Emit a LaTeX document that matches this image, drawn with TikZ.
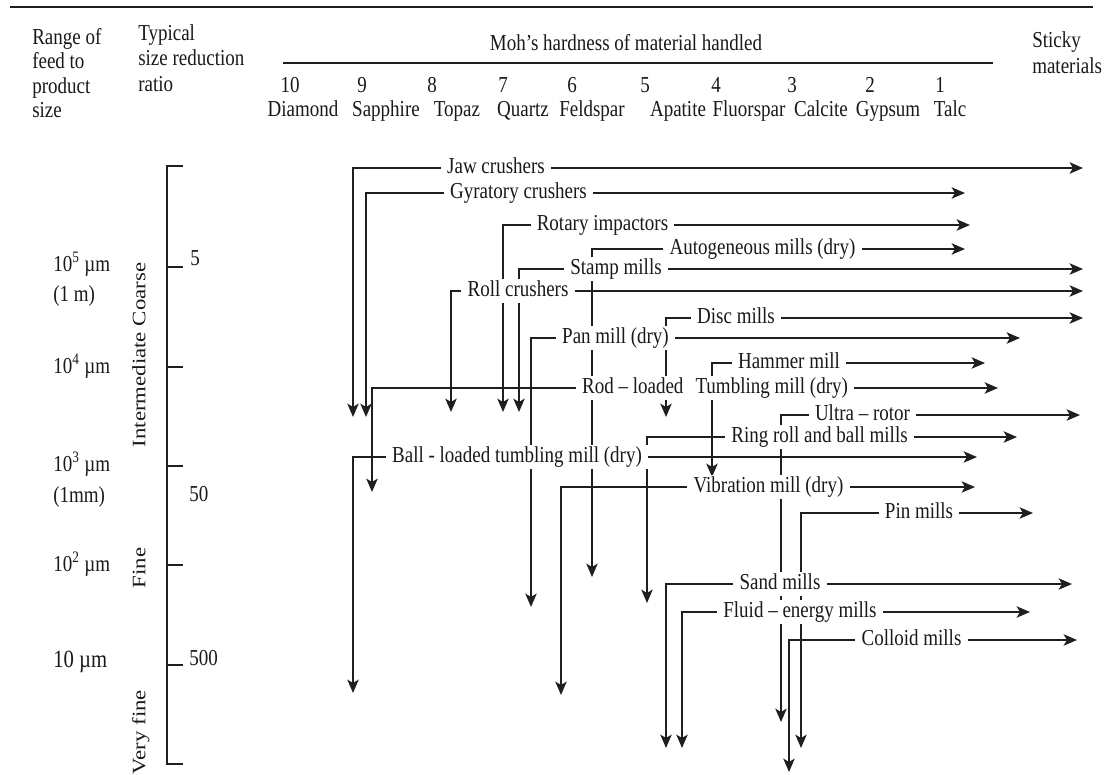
\documentclass[tikz,border=0pt]{standalone}
\usepackage{fontspec}
\setmainfont{Liberation Serif}
\usetikzlibrary{arrows.meta,backgrounds}
\newcommand\tx[1]{\scalebox{1}[1.2]{#1}}
\newcommand\rtx[1]{\scalebox{1.2}[1]{#1}}
\begin{document}
\begin{tikzpicture}[x=0.75pt,y=-0.75pt,
  font=\fontsize{14.25}{17}\selectfont,
  lab/.style={fill=white,inner xsep=4.5pt,inner ysep=1.2pt,text height=11.7pt,text depth=3.7pt,text=black!90},
  hd/.style={inner sep=0pt,text height=11.7pt,text depth=3.7pt,text=black!90},
  ln/.style={draw=black!88,line width=1.5pt},
  arr/.style={ln,-{Stealth[length=10pt,width=8.5pt,inset=2.5pt]}}]
\useasboundingbox (0,0) rectangle (1111,775);
% ---------- header ----------
\draw[ln,line width=1.6pt] (10,7) -- (1093,7);
\node[hd,anchor=west] (h1) at (32,39) {\tx{Range of}};
\node[hd,anchor=west] (h2) at (32,63) {\tx{feed to}};
\node[hd,anchor=west] (h3) at (32,88) {\tx{product}};
\node[hd,anchor=west] (h4) at (32,112) {\tx{size}};
\node[hd,anchor=west] (t1) at (138,35) {\tx{Typical}};
\node[hd,anchor=west] (t2) at (138,60) {\tx{size reduction}};
\node[hd,anchor=west] (t3) at (138,86) {\tx{ratio}};
\node[hd] (moh) at (626,45) {\tx{Moh's hardness of material handled}};
\draw[ln] (283,63) -- (993,63);
\node[hd,anchor=west] (s1) at (1032,42) {\tx{Sticky}};
\node[hd,anchor=west] (s2) at (1032,68) {\tx{materials}};
\foreach \x/\n [count=\i] in {290/10,362/9,432/8,503/7,572/6,645/5,716/4,792/3,870/2,940/1}
  \node[hd] (num\i) at (\x,87) {\tx{\n}};
\foreach \x/\n [count=\i] in {303/Diamond,386/Sapphire,457/Topaz,523/Quartz,592/Feldspar,678/Apatite,749/Fluorspar,821/Calcite,888/Gypsum,950/Talc}
  \node[hd] (nm\i) at (\x,111) {\tx{\n}};
% ---------- left scale ----------
\draw[ln] (183,166) -- (167,166) -- (167,764) -- (183,764);
\foreach \y in {267,367,466,565,665} \draw[ln] (167,\y) -- (183,\y);
\node[hd,anchor=west] (a5) at (190,260) {\tx{5}};
\node[hd,anchor=west] (a50) at (189,496) {\tx{50}};
\node[hd,anchor=west] (a500) at (189,660) {\tx{500}};
\node[hd,anchor=west] (l1) at (53,266) {\tx{10\textsuperscript{5} µm}};
\node[hd,anchor=west] (l1b) at (53,296) {\tx{(1 m)}};
\node[hd,anchor=west] (l2) at (53,368) {\tx{10\textsuperscript{4} µm}};
\node[hd,anchor=west] (l3) at (53,466) {\tx{10\textsuperscript{3} µm}};
\node[hd,anchor=west] (l3b) at (53,497) {\tx{(1mm)}};
\node[hd,anchor=west] (l4) at (53,566) {\tx{10\textsuperscript{2} µm}};
\node[hd,anchor=west,font=\fontsize{15.5}{18}\selectfont] (l5) at (53,662) {\tx{10 µm}};
\node[hd,rotate=90] (c1) at (140,355) {\rtx{Intermediate Coarse}};
\node[hd,rotate=90] (c2) at (140,568) {\rtx{Fine}};
\node[hd,rotate=90] (c3) at (140,732) {\rtx{Very fine}};
% ---------- equipment labels ----------
\node[lab] (jaw) at (496,168) {\tx{Jaw crushers}};
\node[lab] (gyr) at (518.5,193) {\tx{Gyratory crushers}};
\node[lab] (rot) at (602.5,225) {\tx{Rotary impactors}};
\node[lab] (aut) at (762.5,249) {\tx{Autogeneous mills (dry)}};
\node[lab] (stm) at (616,269) {\tx{Stamp mills}};
\node[lab] (rol) at (518,291) {\tx{Roll crushers}};
\node[lab] (dis) at (736,318) {\tx{Disc mills}};
\node[lab] (pan) at (615.5,338) {\tx{Pan mill (dry)}};
\node[lab] (ham) at (789,363) {\tx{Hammer mill}};
\node[lab] (rod) at (715,388) {\tx{Rod – loaded\hspace{5.5pt} Tumbling mill (dry)}};
\node[lab] (ult) at (862.5,415) {\tx{Ultra – rotor}};
\node[lab] (rin) at (819.5,437) {\tx{Ring roll and ball mills}};
\node[lab] (bal) at (517,457) {\tx{Ball - loaded tumbling mill (dry)}};
\node[lab] (vib) at (768.5,487) {\tx{Vibration mill (dry)}};
\node[lab] (pin) at (919,513) {\tx{Pin mills}};
\node[lab] (san) at (780,584) {\tx{Sand mills}};
\node[lab] (flu) at (800,612) {\tx{Fluid – energy mills}};
\node[lab] (col) at (911.5,640) {\tx{Colloid mills}};
% end points
\coordinate (jawD) at (353,417);   \coordinate (jawR) at (1083,168);
\coordinate (gyrD) at (366,417);   \coordinate (gyrR) at (965,193);
\coordinate (rotD) at (503,412);   \coordinate (rotR) at (970,225);
\coordinate (autD) at (592,577);   \coordinate (autR) at (965,249);
\coordinate (stmD) at (519,412);   \coordinate (stmR) at (1083,269);
\coordinate (rolD) at (451,412);   \coordinate (rolR) at (1083,291);
\coordinate (disD) at (666,417);   \coordinate (disR) at (1083,318);
\coordinate (panD) at (531,607);   \coordinate (panR) at (1020,338);
\coordinate (hamD) at (712,477);   \coordinate (hamR) at (985,363);
\coordinate (rodD) at (372,492);   \coordinate (rodR) at (998,388);
\coordinate (ultD) at (781,722);   \coordinate (ultR) at (1080,415);
\coordinate (rinD) at (647,603);   \coordinate (rinR) at (1017,437);
\coordinate (balD) at (353,693);   \coordinate (balR) at (977,457);
\coordinate (vibD) at (561,695);   \coordinate (vibR) at (975,487);
\coordinate (pinD) at (801,748);   \coordinate (pinR) at (1033,513);
\coordinate (sanD) at (666,748);   \coordinate (sanR) at (1072,584);
\coordinate (fluD) at (682,748);   \coordinate (fluR) at (1030,612);
\coordinate (colD) at (789,772);   \coordinate (colR) at (1077,640);
\begin{scope}[on background layer]
\foreach \m in {jaw,gyr,rot,aut,stm,rol,dis,pan,ham,rod,ult,rin,bal,vib,pin,san,flu,col}{
  \draw[arr] (\m.west) -| (\m D);
  \draw[arr] (\m.east) -- (\m R);
}
\end{scope}
\end{tikzpicture}
\end{document}
